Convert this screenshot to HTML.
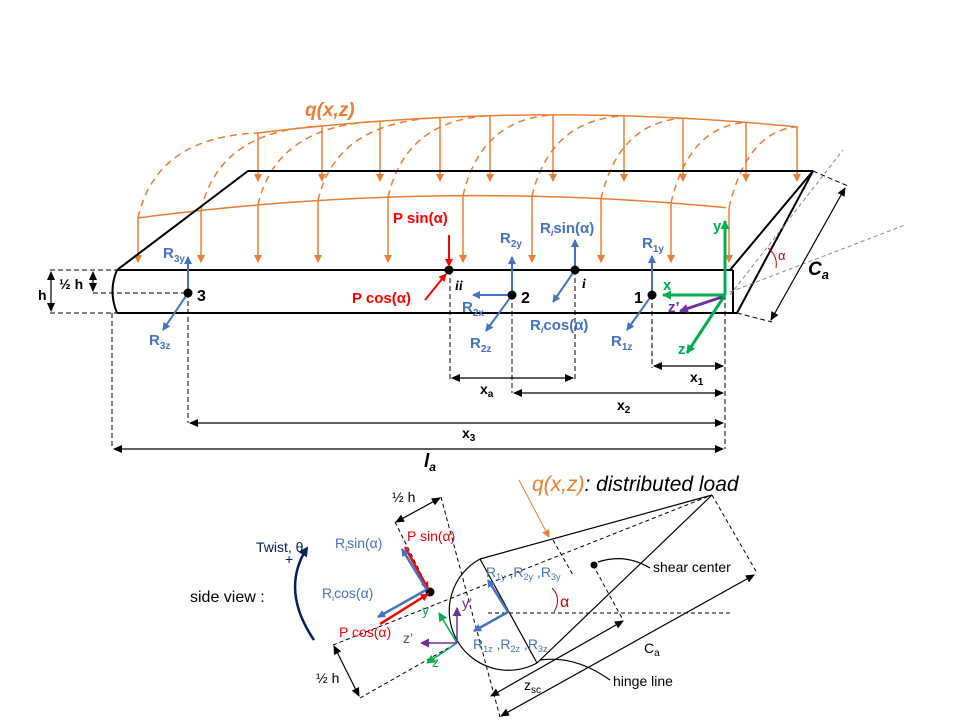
<!DOCTYPE html>
<html><head><meta charset="utf-8"><style>
body{margin:0;background:#fff}
svg{display:block;font-family:"Liberation Sans",sans-serif}
</style></head><body>
<svg id="d" width="960" height="720" viewBox="0 0 960 720" xmlns="http://www.w3.org/2000/svg">
<defs>
<marker id="ao" markerWidth="8" markerHeight="8" refX="7" refY="4" orient="auto" markerUnits="userSpaceOnUse"><path d="M0,0L8,4L0,8z" fill="#ed7d31"/></marker>
<marker id="ab" markerWidth="8" markerHeight="8" refX="7" refY="4" orient="auto" markerUnits="userSpaceOnUse"><path d="M0,0L8,4L0,8z" fill="#4472c4"/></marker>
<marker id="ar" markerWidth="8" markerHeight="8" refX="7" refY="4" orient="auto" markerUnits="userSpaceOnUse"><path d="M0,0L8,4L0,8z" fill="#ff0000"/></marker>
<marker id="ag" markerWidth="9" markerHeight="9" refX="8" refY="4.5" orient="auto" markerUnits="userSpaceOnUse"><path d="M0,0L9,4.5L0,9z" fill="#00b050"/></marker>
<marker id="ap" markerWidth="9" markerHeight="9" refX="8" refY="4.5" orient="auto" markerUnits="userSpaceOnUse"><path d="M0,0L9,4.5L0,9z" fill="#7030a0"/></marker>
<marker id="ak" markerWidth="9" markerHeight="8" refX="8" refY="4" orient="auto-start-reverse" markerUnits="userSpaceOnUse"><path d="M0,0L9,4L0,8z" fill="#000"/></marker>
<marker id="an" markerWidth="10" markerHeight="10" refX="8" refY="5" orient="auto" markerUnits="userSpaceOnUse"><path d="M0,0L10,5L0,10z" fill="#002060"/></marker>
</defs>
<g id="load"></g>
<g fill="none" stroke="#000" stroke-width="2">
<path d="M117,270 L733,270 M117,313 L737,313 M117,270 Q108,291 117,313 M117,270 L248,171 L813,171 M730,270 L813,171 M737,313 L813,171 M733,270 L733,313" />
</g>
<text x="305" y="116" fill="#ed7d31" font-size="19" font-style="italic" font-weight="bold">q(x,z)</text>
<g stroke="#000" stroke-width="1" stroke-dasharray="5,3" fill="none">
<path d="M50,270H117 M50,313H117 M93,293H188 M112,313V449 M188,293V423 M450,270V380 M512,295V393 M575,270V380 M652,295V368 M725,295V449"/>
<path d="M813,171L848,186 M737,313L772,322" />
</g>
<g stroke="#888" stroke-width="1" stroke-dasharray="4,3" fill="none">
<path d="M730,295L843,150 M730,292L905,225"/>
</g>
<g stroke="#000" stroke-width="1.2" fill="none">
<path d="M51,272V311" marker-start="url(#ak)" marker-end="url(#ak)"/>
<path d="M93,272V291" marker-start="url(#ak)" marker-end="url(#ak)"/>
<path d="M452,378H573" marker-start="url(#ak)" marker-end="url(#ak)"/>
<path d="M654,366H723" marker-start="url(#ak)" marker-end="url(#ak)"/>
<path d="M514,393H723" marker-start="url(#ak)" marker-end="url(#ak)"/>
<path d="M190,423H723" marker-start="url(#ak)" marker-end="url(#ak)"/>
<path d="M114,449H723" marker-start="url(#ak)" marker-end="url(#ak)"/>
<path d="M771,320L845,188" marker-start="url(#ak)" marker-end="url(#ak)"/>
</g>
<path d="M768,248 Q778,256 776,268" stroke="#c00" fill="none"/>
<text x="778" y="260" fill="#c00" font-size="13">α</text>
<text x="808" y="275" font-size="19" font-style="italic" font-weight="bold">C<tspan font-size="13" dy="4">a</tspan></text>
<g font-size="14" font-weight="bold">
<text x="38" y="300">h</text><text x="59" y="289">½ h</text>
<text x="480" y="394">x<tspan font-size="10" dy="3">a</tspan></text>
<text x="690" y="382">x<tspan font-size="10" dy="3">1</tspan></text>
<text x="617" y="410">x<tspan font-size="10" dy="3">2</tspan></text>
<text x="462" y="438">x<tspan font-size="10" dy="3">3</tspan></text>
<text x="424" y="467" font-size="19" font-style="italic">l<tspan font-size="12" dy="4">a</tspan></text>
<text x="197" y="301" font-size="16">3</text><text x="521" y="303" font-size="16">2</text><text x="634" y="303" font-size="16">1</text>
<text x="455" y="290" font-style="italic" font-family="Liberation Serif">ii</text>
<text x="582" y="288" font-style="italic" font-family="Liberation Serif">i</text>
</g>
<g stroke="#4472c4" stroke-width="2" fill="none" marker-end="url(#ab)">
<path d="M188,293V257"/><path d="M188,293L163,330"/>
<path d="M512,295V257"/><path d="M512,295H473"/><path d="M512,295L486,331"/>
<path d="M575,270V240"/><path d="M575,270L553,302"/>
<path d="M652,295V256"/><path d="M652,295L627,330"/>
</g>
<g fill="#000"><circle cx="188" cy="293" r="4.5"/><circle cx="512" cy="295" r="4.5"/><circle cx="652" cy="295" r="4.5"/><circle cx="575" cy="270" r="4.5"/><circle cx="449" cy="270" r="4.5"/></g>
<g stroke="#ff0000" stroke-width="2" fill="none" marker-end="url(#ar)">
<path d="M449,235V266"/><path d="M425,300L446,274"/></g>
<g fill="#4472c4" font-size="15" font-weight="bold">
<text x="163" y="258">R<tspan font-size="10" dy="4">3y</tspan></text>
<text x="149" y="345">R<tspan font-size="10" dy="4">3z</tspan></text>
<text x="500" y="243">R<tspan font-size="10" dy="4">2y</tspan></text>
<text x="462" y="312">R<tspan font-size="10" dy="4">2x</tspan></text>
<text x="470" y="348">R<tspan font-size="10" dy="4">2z</tspan></text>
<text x="540" y="233">R<tspan font-size="9" font-style="italic" dy="3">i</tspan><tspan dy="-3">sin(α)</tspan></text>
<text x="530" y="330">R<tspan font-size="9" font-style="italic" dy="3">i</tspan><tspan dy="-3">cos(α)</tspan></text>
<text x="642" y="248">R<tspan font-size="10" dy="4">1y</tspan></text>
<text x="611" y="346">R<tspan font-size="10" dy="4">1z</tspan></text>
</g>
<g fill="#ff0000" font-size="15" font-weight="bold">
<text x="393" y="223">P sin(α)</text><text x="352" y="303">P cos(α)</text></g>
<g stroke-width="3" fill="none">
<path d="M725,295V221" stroke="#00b050" marker-end="url(#ag)"/>
<path d="M725,295H663" stroke="#00b050" marker-end="url(#ag)"/>
<path d="M725,295L687,353" stroke="#00b050" marker-end="url(#ag)"/>
<path d="M722,297L680,311" stroke="#7030a0" marker-end="url(#ap)"/>
</g>
<g font-size="15" font-weight="bold">
<text x="713" y="231" fill="#00b050">y</text><text x="663" y="290" fill="#00b050">x</text>
<text x="668" y="312" fill="#7030a0">z’</text><text x="678" y="354" fill="#00b050">z</text></g>

<g>
<g fill="none" stroke="#000" stroke-width="1" stroke-dasharray="4,3">
<path d="M395,522L430,592 M441,497L500,717 M333,645L712,495 M360,698L457,643 M488,613H732 M712,495L757,573 M593,565L623,620 M553,540L573,575"/>
</g>
<g fill="none" stroke="#000" stroke-width="1.2">
<path d="M480,559 A59,59 0 0 0 537,663"/>
<path d="M480,559L712,495 M537,663L712,495 M480,559L537,663"/>
<path d="M598,562 Q625,553 650,568"/>
<path d="M540,660 Q575,655 610,680"/>
<path d="M396,522L440,498" marker-start="url(#ak)" marker-end="url(#ak)"/>
<path d="M334,646L359,696" marker-start="url(#ak)" marker-end="url(#ak)"/>
<path d="M501,716L754,575" marker-start="url(#ak)" marker-end="url(#ak)"/>
<path d="M491,696L623,621" marker-start="url(#ak)" marker-end="url(#ak)"/>
</g>
<path d="M519,480L549,537" stroke="#ed7d31" stroke-width="1" fill="none" marker-end="url(#ao)"/>
<circle cx="594" cy="565" r="3.5" fill="#000"/>
<circle cx="430" cy="592" r="4.5" fill="#000"/>
<path d="M552,588 Q562,598 554,612" stroke="#c00" fill="none"/>
<g stroke-width="2.5" fill="none">
<path d="M508,612L488,580" stroke="#4472c4" marker-end="url(#ab)"/>
<path d="M508,612L474,631" stroke="#4472c4" marker-end="url(#ab)"/>
<path d="M405,547L428,589" stroke="#ff0000" marker-end="url(#ar)"/>
<path d="M427,590L402,549" stroke="#4472c4" marker-end="url(#ab)"/>
<path d="M380,624L428,594" stroke="#ff0000" marker-end="url(#ar)"/>
<path d="M426,590L378,617" stroke="#4472c4" marker-end="url(#ab)"/>
</g>
<g stroke-width="1.5" fill="none">
<path d="M457,643L439,613" stroke="#00b050" marker-end="url(#ag)"/>
<path d="M457,643L427,663" stroke="#00b050" marker-end="url(#ag)"/>
<path d="M457,643V608" stroke="#7030a0" marker-end="url(#ap)"/>
<path d="M457,643H421" stroke="#7030a0" marker-end="url(#ap)"/>
</g>
<path d="M314,640 Q280,590 307,548" stroke="#002060" stroke-width="2.5" fill="none" marker-end="url(#an)"/>
<g font-size="14">
<text x="190" y="602" font-size="16">side view :</text>
<text x="256" y="552" fill="#002060">Twist, θ</text>
<text x="285" y="564" fill="#002060">+</text>
<text x="392" y="502">½ h</text><text x="316" y="683">½ h</text>
<text x="335" y="548" fill="#4472c4">R<tspan font-size="9" dy="3">ι</tspan><tspan dy="-3">sin(α)</tspan></text>
<text x="407" y="541" fill="#ff0000">P sin(α)</text>
<text x="322" y="598" fill="#4472c4">R<tspan font-size="9" dy="3">ι</tspan><tspan dy="-3">cos(α)</tspan></text>
<text x="339" y="637" fill="#ff0000">P cos(α)</text>
<text x="422" y="615" fill="#00b050">y</text><text x="462" y="608" fill="#7030a0">y’</text>
<text x="403" y="643" fill="#7030a0">z’</text><text x="432" y="667" fill="#00b050">z</text>
<text x="486" y="577" fill="#4472c4">R<tspan font-size="9" dy="3">1y</tspan><tspan dy="-3"> ,R</tspan><tspan font-size="9" dy="3">2y</tspan><tspan dy="-3"> ,R</tspan><tspan font-size="9" dy="3">3y</tspan></text>
<text x="473" y="649" fill="#4472c4">R<tspan font-size="9" dy="3">1z</tspan><tspan dy="-3"> ,R</tspan><tspan font-size="9" dy="3">2z</tspan><tspan dy="-3"> ,R</tspan><tspan font-size="9" dy="3">3z</tspan></text>
<text x="560" y="607" fill="#c00" font-size="16">α</text>
<text x="653" y="572">shear center</text>
<text x="644" y="653">C<tspan font-size="10" dy="3">a</tspan></text>
<text x="524" y="690">z<tspan font-size="10" dy="3">sc</tspan></text>
<text x="613" y="686">hinge line</text>
<text x="532" y="491" font-size="21" font-style="italic"><tspan fill="#ed7d31">q(x,z)</tspan>: distributed load</text>
</g>
</g>
</svg>
<script>
const frontStations=[138,201,258,318,388,463,532,601,671,729];
const backStations=[258,322,380,440,490,553,624,683,746,797];
const frontEndY=262, backEndY=181;
function yTop(x){const t=(x-258)/540;return (1-t)*(1-t)*133+2*t*(1-t)*100+t*t*127;}
function yLow(x){const t=(x-138)/591;return (1-t)*(1-t)*218+2*t*(1-t)*179+t*t*208;}
const g=document.getElementById('load');
const NS='http://www.w3.org/2000/svg';
function mk(d,dash,arrow){const p=document.createElementNS(NS,'path');p.setAttribute('d',d);p.setAttribute('stroke','#ed7d31');p.setAttribute('stroke-width','1.5');p.setAttribute('fill','none');if(dash)p.setAttribute('stroke-dasharray','7,5');if(arrow)p.setAttribute('marker-end','url(#ao)');g.appendChild(p);return p;}
let d='M258,'+yTop(258);for(let x=262;x<=798;x+=4)d+=' L'+x+','+yTop(x).toFixed(1);
let e=mk(d,false,false);


d='M138,'+yLow(138);for(let x=142;x<=729;x+=4)d+=' L'+x+','+yLow(x).toFixed(1);
e=mk(d,false,false);


frontStations.forEach(x=>{const a=mk('M'+x+','+yLow(x).toFixed(1)+' V'+frontEndY,false,true);

});
backStations.forEach((x,i)=>{const a=mk('M'+x+','+yTop(x).toFixed(1)+' V'+backEndY,false,true);


const fx=frontStations[i],fy=yLow(fx),by=yTop(x);
const c=mk('M'+fx+','+fy.toFixed(1)+' Q'+(fx+18)+','+(by+4).toFixed(1)+' '+x+','+by.toFixed(1),true,false);

});
</script>
</body></html>
